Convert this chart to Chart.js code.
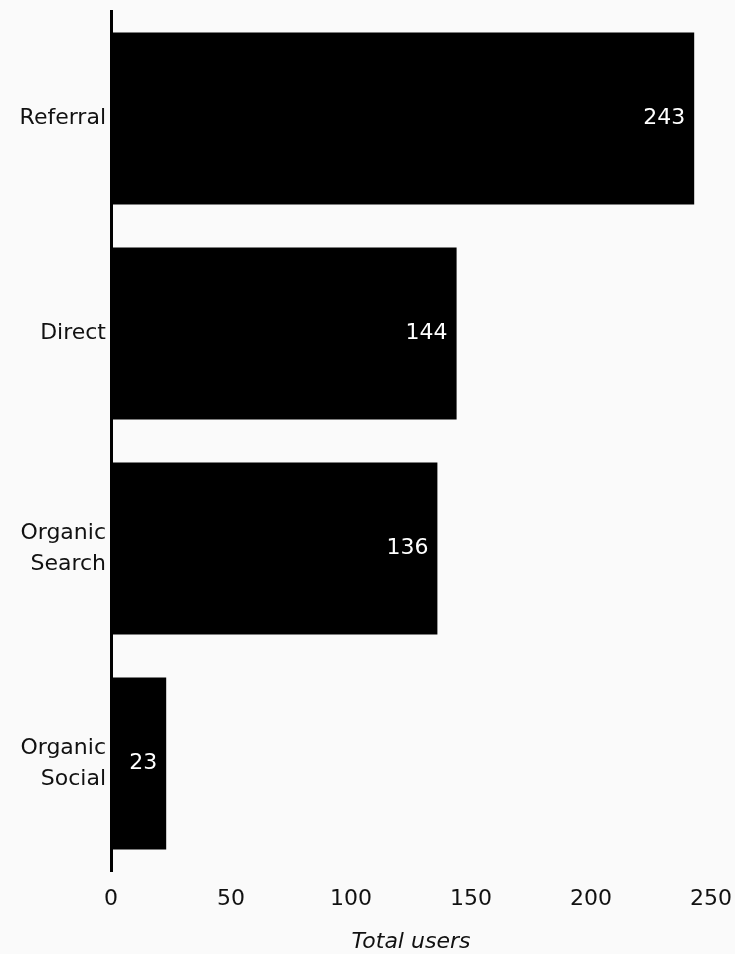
<!DOCTYPE html>
<html>
<head>
<meta charset="utf-8">
<script src="https://cdn.jsdelivr.net/npm/chart.js@4"></script>
<style>
  html, body { margin: 0; padding: 0; background: #fafafa; }
  #wrap { width: 735px; height: 954px; }
</style>
</head>
<body>
<div id="wrap"><canvas id="usersChart" width="735" height="954"></canvas></div>
<script>
// Users by channel
const channels = [['Referral'], ['Direct'], ['Organic', 'Search'], ['Organic', 'Social']];
const totalUsers = [243, 144, 136, 23];
const xTicks = [0, 50, 100, 150, 200, 250];

const FONT = "'DejaVu Sans', sans-serif";

// white value labels inside the bar ends
const barValues = {
  id: 'barValues',
  afterDatasetsDraw(chart) {
    const ctx = chart.ctx;
    const meta = chart.getDatasetMeta(0);
    ctx.save();
    ctx.fillStyle = '#ffffff';
    ctx.font = '22px ' + FONT;
    ctx.textAlign = 'right';
    ctx.textBaseline = 'middle';
    meta.data.forEach((bar, i) => {
      ctx.fillText(String(totalUsers[i]), bar.x - 9, bar.y);
    });
    ctx.restore();
  }
};

new Chart(document.getElementById('usersChart'), {
  type: 'bar',
  data: {
    labels: channels,
    datasets: [{
      data: totalUsers,
      backgroundColor: '#000000',
      categoryPercentage: 0.8,
      barPercentage: 1.0
    }]
  },
  options: {
    indexAxis: 'y',
    responsive: false,
    animation: false,
    layout: { padding: { top: 11, right: 24, bottom: 0, left: 0 } },
    plugins: { legend: { display: false }, tooltip: { enabled: false } },
    scales: {
      x: {
        min: 0,
        max: 250,
        afterBuildTicks: s => { s.ticks = xTicks.map(v => ({ value: v })); },
        grid: { display: false, drawTicks: false },
        border: { display: false },
        ticks: { color: '#111', font: { family: FONT, size: 22 }, padding: 15 },
        title: {
          display: true,
          text: 'Total users',
          color: '#111',
          font: { family: FONT, size: 22, style: 'italic' },
          padding: { top: 6, bottom: -1 }
        },
        afterFit: s => { s.height = 83; s.paddingLeft = 0; s.paddingRight = 0; }
      },
      y: {
        grid: { display: false, drawTicks: false },
        border: { display: true, color: '#000', width: 3 },
        ticks: { color: '#111', font: { family: FONT, size: 22, lineHeight: 1.4 }, padding: 5, autoSkip: false },
        afterFit: s => { s.width = 111; s.paddingTop = 0; s.paddingBottom = 0; }
      }
    }
  },
  plugins: [barValues]
});
</script>
</body>
</html>
